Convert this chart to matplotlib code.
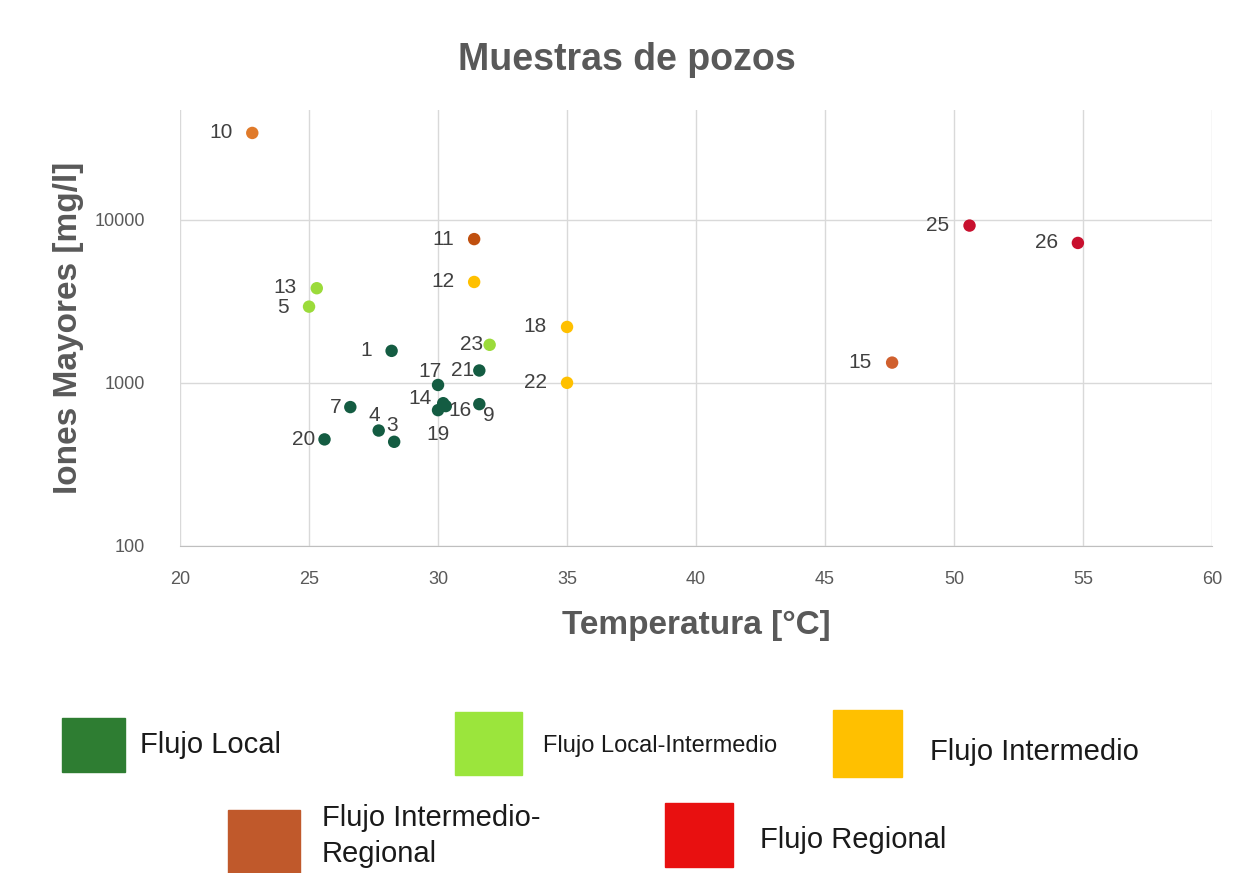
import matplotlib.pyplot as plt
from matplotlib.patches import Rectangle

plt.rcParams['font.family'] = ['Liberation Sans', 'DejaVu Sans']

# muestras: etiqueta, temperatura, iones mayores, grupo
labels = ['10', '11', '12', '13', '5', '18', '23', '1', '21', '17', '22', '14', '19', '16', '9',
          '7', '4', '3', '20', '15', '25', '26']
temp = [22.8, 31.4, 31.4, 25.3, 25.0, 35.0, 32.0, 28.2, 31.6, 30.0, 35.0, 30.2, 30.0, 30.3, 31.6,
        26.6, 27.7, 28.3, 25.6, 47.6, 50.6, 54.8]
iones = [34000, 7600, 4150, 3800, 2930, 2200, 1710, 1570, 1190, 970, 1000, 750, 680, 720, 740,
         710, 510, 435, 450, 1330, 9200, 7200]
point_colors = ['#E07A2A', '#C0500F', '#FFC000', '#9BDB3A', '#9BDB3A', '#FFC000', '#9BDB3A',
                '#145C42', '#145C42', '#145C42', '#FFC000', '#145C42', '#145C42', '#145C42',
                '#145C42', '#145C42', '#145C42', '#145C42', '#145C42', '#D0602E', '#C8102E',
                '#C8102E']
# posicion de la etiqueta respecto al punto (pixeles), alineacion
offsets = {'9': (4, -11, 'left'), '3': (-2, 16, 'center'), '4': (-4, 15, 'center'),
           '16': (3, -4, 'left'), '19': (0, -24, 'center'), '14': (-12, 5, 'right'),
           '17': (-8, 13, 'center'), '21': (-5, 0, 'right'), '23': (-7, 0, 'right'),
           '7': (-9, 0, 'right'), '20': (-9, 0, 'right'), '13': (-20, 1, 'right'),
           '5': (-20, -1, 'right')}

legend_names = ['Flujo Local', 'Flujo Local-Intermedio', 'Flujo Intermedio',
                'Flujo Intermedio-\nRegional', 'Flujo Regional']
legend_colors = ['#2E7D32', '#9BE53C', '#FFC000', '#C0592B', '#E81010']

fig = plt.figure(figsize=(12.59, 8.73), dpi=100)
ax = fig.add_axes([0.143, 0.3746, 0.8197, 0.4994])

ax.scatter(temp, iones, s=80, c=point_colors, zorder=3, edgecolors='none')
for lab, x, y in zip(labels, temp, iones):
    dx, dy, ha = offsets.get(lab, (-20, 0, 'right'))
    ax.annotate(lab, (x, y), xytext=(dx * 0.72, dy * 0.72), textcoords='offset points',
                ha=ha, va='center', fontsize=15, color='#404040', zorder=4)

ax.set_yscale('log')
ax.set_xlim(20, 60)
ax.set_ylim(100, 47000)
ax.set_xticks(range(20, 61, 5))
ax.set_yticks([100, 1000, 10000])
ax.set_yticklabels(['100', '1000', '10000'])
ax.minorticks_off()
ax.grid(True, color='#D9D9D9', linewidth=1)
ax.set_axisbelow(True)
for s in ['top', 'right', 'left']:
    ax.spines[s].set_visible(False)
ax.spines['bottom'].set_color('#BFBFBF')
ax.tick_params(length=0, labelsize=13, labelcolor='#595959')
ax.tick_params(axis='x', pad=18)
ax.tick_params(axis='y', pad=25)

ax.set_xlabel('Temperatura [°C]', fontsize=24, fontweight='bold', color='#595959', labelpad=16)
ax.set_ylabel('Iones Mayores [mg/l]', fontsize=24, fontweight='bold', color='#595959', labelpad=8)
fig.text(0.498, 0.931, 'Muestras de pozos', ha='center', va='center', fontsize=27,
         fontweight='bold', color='#595959')

# leyenda manual
W, H = 1259, 873
boxes = [(62, 718, 63, 54), (455, 712, 67, 63), (833, 710, 69, 67), (228, 810, 72, 63), (665, 803, 68, 64)]
texts = [(140, 745, 21), (543, 746, 17), (930, 752, 21), (322, 836, 21), (760, 840, 21)]
for (bx, by, bw, bh), (tx, ty, fs), name, col in zip(boxes, texts, legend_names, legend_colors):
    fig.patches.append(Rectangle((bx / W, 1 - (by + bh) / H), bw / W, bh / H,
                                 transform=fig.transFigure, color=col))
    fig.text(tx / W, 1 - ty / H, name, ha='left', va='center', fontsize=fs,
             color='#1a1a1a', linespacing=1.4)

fig.savefig('out.png', dpi=100)
